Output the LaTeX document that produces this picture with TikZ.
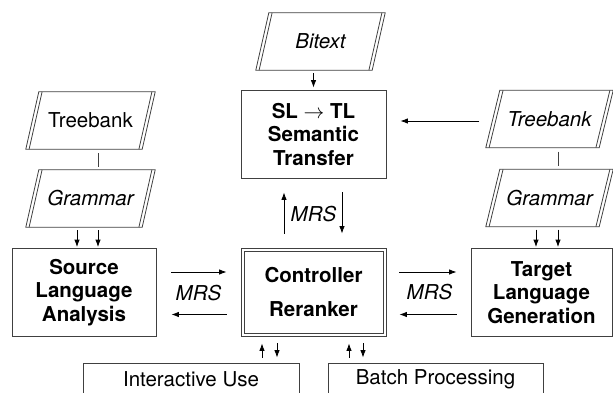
\documentclass[tikz,border=0pt]{standalone}
\usepackage{fontspec}
\setmainfont{TeX Gyre Heros}
\usetikzlibrary{arrows.meta,calc}
\newcommand\fs{\fontsize{20.5}{23.5}\selectfont}
\newcommand\paral[2]{%
  \draw[pline] ($(#1.north west)+(#2,0)$) -- (#1.north east) -- ($(#1.south east)+(-#2,0)$) -- (#1.south west) -- cycle;
  \draw[pline] ($(#1.north west)+(#2+3.3,0)$) -- ($(#1.south west)+(3.3,0)$);
  \draw[pline] ($(#1.north east)+(-3.3,0)$) -- ($(#1.south east)+(-#2-3.3,0)$);
}
\tikzset{
  pline/.style={draw=black!75, line width=0.8pt},
  boxnode/.style={draw=black!75, line width=0.8pt, minimum width=144pt, minimum height=88pt,
    inner sep=0pt, align=center, font=\fs\bfseries},
  parnode/.style={minimum width=129pt, minimum height=57pt, inner sep=0pt, font=\fs},
  usenode/.style={draw=black!75, line width=0.8pt, minimum height=32pt, inner sep=0pt, font=\fs},
  lbl/.style={inner sep=0pt, font=\fs\itshape},
  arr/.style={-{Latex[length=7.5pt,width=5.5pt]}, line width=0.85pt},
  conn/.style={line width=0.8pt, draw=black!75},
}
\begin{document}
\begin{tikzpicture}[x=1pt,y=-1pt]
\useasboundingbox (0,0) rectangle (613,393);
\clip (0,0) rectangle (613,393);

% parallelograms
\node[parnode, font=\fs\itshape] (bitext) at (320.5,41.5) {Bitext};
\paral{bitext}{13}
\node[parnode] (tbL) at (90.5,120.5) {Treebank};
\paral{tbL}{13}
\node[parnode, font=\fs\itshape] (grL) at (90.5,198.5) {Grammar};
\paral{grL}{13}
\node[parnode, minimum width=127pt, font=\fs\itshape] (tbR) at (549.5,119) {Treebank};
\paral{tbR}{14}
\node[parnode, minimum width=127pt, font=\fs\itshape] (grR) at (549.5,198) {Grammar};
\paral{grR}{14}

% boxes
\node[boxnode, minimum width=145pt] (sltl) at (313.5,134) {SL $\rightarrow$ TL\\Semantic\\Transfer};
\node[boxnode] (src) at (84,292.5) {Source\\Language\\Analysis};
\node[boxnode, minimum width=141pt] (tgt) at (541.5,292.5) {Target\\Language\\Generation};
\node[boxnode, minimum width=145pt, minimum height=88pt]
  (ctl) at (313.5,292) {Controller\\[10.5pt]Reranker};
\draw[pline] ($(ctl.north west)+(3.3,3.3)$) rectangle ($(ctl.south east)+(-3.3,-3.3)$);
\node[usenode, minimum width=216pt] (iu) at (191,379) {Interactive Use};
\node[usenode, minimum width=215pt] (bp) at (435.5,379) {Batch Processing};

% labels
\node[lbl] (mrsL) at (198.5,293) {MRS};
\node[lbl] (mrsR) at (429.5,292.5) {MRS};
\node[lbl] (mrsV) at (313.5,214) {MRS};

% connectors
\draw[arr] ($(bitext.south -| sltl.north)+(0,3)$) -- ($(sltl.north)+(0,-2)$);
\draw[arr] ($(tbR.west)+(-6.5,2)$) -- ($(sltl.east |- tbR.west)+(14,2)$);

\draw[conn] ($(tbL.south)+(7.5,4)$) -- ($(grL.north)+(7.5,-3)$);
\draw[arr] ($(grL.south)+(-13.5,3)$) -- ($(src.north -| grL.south)+(-13.5,-1)$);
\draw[arr] ($(grL.south)+(7.5,3)$) -- ($(src.north -| grL.south)+(7.5,-1)$);

\draw[conn] ($(tbR.south)+(8.5,4)$) -- ($(grR.north)+(8.5,-3)$);
\draw[arr] ($(grR.south)+(-13.5,3)$) -- ($(tgt.north -| grR.south)+(-13.5,-1)$);
\draw[arr] ($(grR.south)+(8.5,3)$) -- ($(tgt.north -| grR.south)+(8.5,-1)$);

\draw[arr] ($(src.east)+(15,-20.5)$) -- ($(ctl.west |- src.east)+(-14,-20.5)$);
\draw[arr] ($(ctl.west |- src.east)+(-14,22)$) -- ($(src.east)+(15,22)$);
\draw[arr] ($(ctl.east |- tgt.west)+(13,-20.5)$) -- ($(tgt.west)+(-14,-20.5)$);
\draw[arr] ($(tgt.west)+(-14,22)$) -- ($(ctl.east |- tgt.west)+(13,22)$);

\draw[arr] ($(ctl.north)+(-29.5,-14)$) -- ($(sltl.south)+(-29.5,14)$);
\draw[arr] ($(sltl.south)+(28.5,14)$) -- ($(ctl.north)+(28.5,-14)$);

\draw[arr] ($(iu.north)+(71,-5)$) -- ($(ctl.south)+(-51.5,7)$);
\draw[arr] ($(ctl.south)+(-36.5,7)$) -- ($(iu.north)+(86,-5)$);
\draw[arr] ($(bp.north)+(-86.5,-5)$) -- ($(ctl.south)+(35.5,7)$);
\draw[arr] ($(ctl.south)+(49.5,7)$) -- ($(bp.north)+(-72.5,-5)$);
\end{tikzpicture}
\end{document}
